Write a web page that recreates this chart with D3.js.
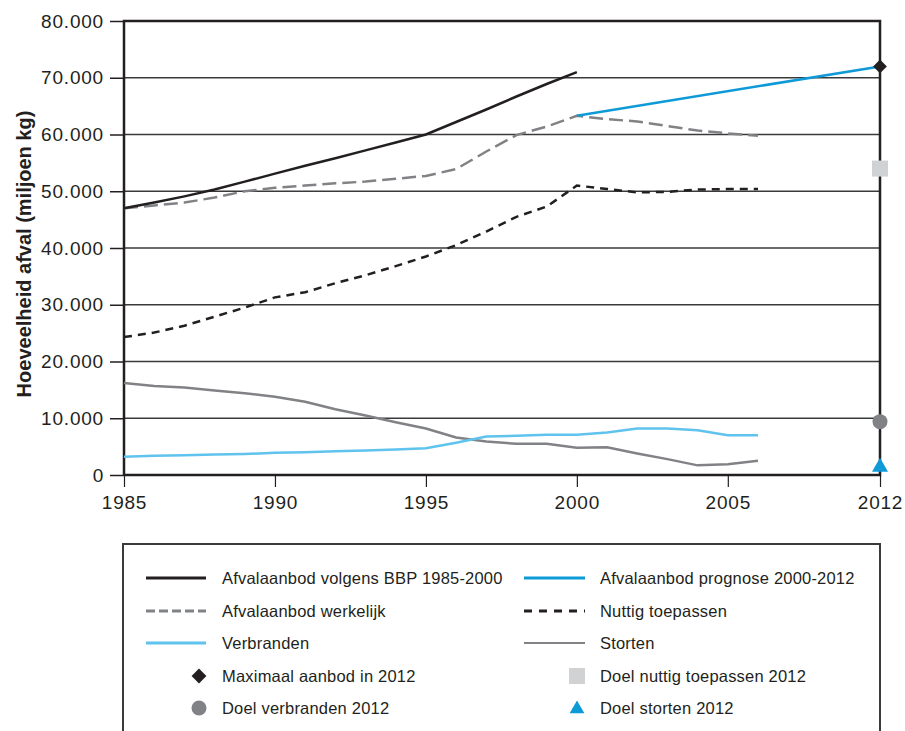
<!DOCTYPE html>
<html>
<head>
<meta charset="utf-8">
<script src="https://cdn.jsdelivr.net/npm/d3@7"></script>
<style>
  body { margin: 0; background: #fff; }
  svg text { font-family: "Liberation Sans", Arial, sans-serif; fill: #231f20; }
</style>
</head>
<body>
<div id="chart-area"></div>
<script>
// Data (miljoen kg)
let years = [1985, 1986, 1987, 1988, 1989, 1990, 1991, 1992, 1993, 1994, 1995,
  1996, 1997, 1998, 1999, 2000, 2001, 2002, 2003, 2004, 2005, 2006];

let bbp = [47000, 48000, 49100, 50300, 51700, 53100, 54500, 55800, 57200, 58600, 60000,
  62200, 64400, 66700, 68900, 71000];

let werkelijk = [47000, 47500, 48000, 48900, 50000, 50600, 51000, 51400, 51700, 52200, 52700,
  53900, 57000, 59900, 61400, 63300, 62700, 62300, 61500, 60700, 60200, 59800];

let nuttig = [24300, 25100, 26300, 27900, 29500, 31300, 32200, 33800, 35200, 36800, 38500,
  40500, 42900, 45500, 47300, 51000, 50400, 49800, 49900, 50300, 50400, 50400];

let verbranden = [3200, 3400, 3500, 3600, 3700, 3900, 4000, 4200, 4300, 4500, 4700,
  5700, 6800, 6900, 7100, 7100, 7500, 8200, 8200, 7900, 7000, 7000];

let storten = [16200, 15700, 15400, 14900, 14400, 13800, 12900, 11600, 10500, 9300, 8200,
  6600, 5900, 5500, 5500, 4800, 4900, 3800, 2800, 1700, 1900, 2500];

let prognoseYears = [2000, 2012];
let prognose = [63300, 72000];

// Targets 2012
let targetYear = 2012;
let maxAanbod = 72000;
let doelNuttig = 54000;
let doelVerbranden = 9400;
let doelStorten = 1400;

let xTicks = [1985, 1990, 1995, 2000, 2005, 2012];
let yTicks = [0, 10000, 20000, 30000, 40000, 50000, 60000, 70000, 80000];

let legendCol1 = ['Afvalaanbod volgens BBP 1985-2000', 'Afvalaanbod werkelijk', 'Verbranden',
  'Maximaal aanbod in 2012', 'Doel verbranden 2012'];
let legendCol2 = ['Afvalaanbod prognose 2000-2012', 'Nuttig toepassen', 'Storten',
  'Doel nuttig toepassen 2012', 'Doel storten 2012'];

// SVG drawing area
let margin = { top: 21, right: 25, bottom: 256, left: 124 };
let width = 905 - margin.left - margin.right,
  height = 731 - margin.top - margin.bottom;

let svgRoot = d3.select('#chart-area').append('svg')
  .attr('width', 905)
  .attr('height', 731);

let svg = svgRoot.append('g')
  .attr('transform', 'translate(' + margin.left + ',' + margin.top + ')');

// Scales: 2012 is squeezed in at the right edge
let x = d3.scaleLinear()
  .domain([1985, 2006, 2012])
  .range([0, 634, width]);

let y = d3.scaleLinear().domain([0, 80000]).range([height, 0]);

let nl = d3.formatLocale({ decimal: ',', thousands: '.', grouping: [3], currency: ['', ''] });
let fmt = nl.format(',');

// Gridlines
svg.append('g')
  .selectAll('line')
  .data(yTicks.filter(d => d > 0 && d < 80000))
  .enter().append('line')
  .attr('x1', 0).attr('x2', width)
  .attr('y1', d => y(d)).attr('y2', d => y(d))
  .attr('stroke', '#3a3a3a')
  .attr('stroke-width', 1.5);

// Axes
let yAxis = d3.axisLeft(y).tickValues(yTicks).tickFormat(fmt).tickSize(14).tickPadding(6);
let ySvg = svg.append('g').call(yAxis);
ySvg.select('.domain').remove();
ySvg.selectAll('line').attr('stroke', '#231f20').attr('stroke-width', 1.5);
ySvg.selectAll('text').style('font-size', '19px').style('letter-spacing', '0.8px');

let xAxis = d3.axisBottom(x).tickValues(xTicks).tickFormat(d3.format('d')).tickSize(12).tickPadding(9);
let xSvg = svg.append('g').attr('transform', 'translate(0,' + height + ')').call(xAxis);
xSvg.select('.domain').remove();
xSvg.selectAll('line').attr('stroke', '#231f20').attr('stroke-width', 1.2);
xSvg.selectAll('text').style('font-size', '19px').style('letter-spacing', '0.8px');

// Frame
svg.append('path')
  .attr('d', 'M0,' + height + 'V0H' + width + 'V' + height + 'H0')
  .attr('fill', 'none')
  .attr('stroke', '#231f20')
  .attr('stroke-width', 2.5);

// Lines
let line = d3.line().x(d => x(d[0])).y(d => y(d[1]));
let series = [
  { values: werkelijk, years: years, color: '#808285', dash: '14,6', w: 2.5 },
  { values: nuttig, years: years, color: '#231f20', dash: '8,6', w: 2.5 },
  { values: storten, years: years, color: '#808285', dash: null, w: 2.5 },
  { values: verbranden, years: years, color: '#5fc3ee', dash: null, w: 2.5 },
  { values: bbp, years: years, color: '#231f20', dash: null, w: 2.5 },
  { values: prognose, years: prognoseYears, color: '#0e9ad7', dash: null, w: 2.5 }
];

svg.selectAll('.serie')
  .data(series)
  .enter().append('path')
  .attr('class', 'serie')
  .attr('d', s => line(s.values.map((v, i) => [s.years[i], v])))
  .attr('fill', 'none')
  .attr('stroke', s => s.color)
  .attr('stroke-width', s => s.w)
  .attr('stroke-dasharray', s => s.dash);

// Target markers
let tx = x(targetYear);
svg.append('rect')
  .attr('x', tx - 8).attr('y', y(doelNuttig) - 8)
  .attr('width', 16).attr('height', 16)
  .attr('fill', '#d1d2d4');
svg.append('circle')
  .attr('cx', tx).attr('cy', y(doelVerbranden)).attr('r', 7.5)
  .attr('fill', '#808285');
svg.append('path')
  .attr('transform', 'translate(' + tx + ',' + y(doelStorten) + ')')
  .attr('d', d3.symbol().type(d3.symbolTriangle).size(111))
  .attr('fill', '#0e9ad7');
svg.append('path')
  .attr('transform', 'translate(' + tx + ',' + y(maxAanbod) + ')')
  .attr('d', d3.symbol().type(d3.symbolDiamond2).size(120))
  .attr('fill', '#231f20');

// Y axis title
svgRoot.append('text')
  .attr('transform', 'translate(31,' + (margin.top + height / 2 + 6) + ') rotate(-90)')
  .attr('text-anchor', 'middle')
  .style('font-size', '20px')
  .style('font-weight', 'bold')
  .text('Hoeveelheid afval (miljoen kg)');

// Legend
let legend = svgRoot.append('g');
legend.append('path')
  .attr('d', 'M123,735V544H880V735')
  .attr('fill', 'none')
  .attr('stroke', '#3a3a3a')
  .attr('stroke-width', 2);

let rowY = [578, 611, 643, 676, 708];
let legendStyle1 = [
  { type: 'line', color: '#231f20', dash: null },
  { type: 'line', color: '#808285', dash: '9,4' },
  { type: 'line', color: '#5fc3ee', dash: null },
  { type: 'diamond', color: '#231f20' },
  { type: 'circle', color: '#808285' }
];
let legendStyle2 = [
  { type: 'line', color: '#0e9ad7', dash: null },
  { type: 'line', color: '#231f20', dash: '8,7' },
  { type: 'line', color: '#808285', dash: null, w: 2 },
  { type: 'square', color: '#d1d2d4' },
  { type: 'triangle', color: '#0e9ad7' }
];

function drawLegend(labels, styles, lx0, lx1, mx, tx0) {
  labels.forEach((lab, i) => {
    let s = styles[i];
    let cy = rowY[i];
    if (s.type === 'line') {
      legend.append('line')
        .attr('x1', lx0).attr('x2', lx1).attr('y1', cy).attr('y2', cy)
        .attr('stroke', s.color).attr('stroke-width', s.w || 3)
        .attr('stroke-dasharray', s.dash);
    } else if (s.type === 'diamond') {
      legend.append('path').attr('transform', 'translate(' + mx + ',' + cy + ')')
        .attr('d', d3.symbol().type(d3.symbolDiamond2).size(140)).attr('fill', s.color);
    } else if (s.type === 'circle') {
      legend.append('circle').attr('cx', mx).attr('cy', cy).attr('r', 7.5).attr('fill', s.color);
    } else if (s.type === 'square') {
      legend.append('rect').attr('x', mx - 8).attr('y', cy - 8).attr('width', 16).attr('height', 16).attr('fill', s.color);
    } else if (s.type === 'triangle') {
      legend.append('path').attr('transform', 'translate(' + mx + ',' + (cy + 1) + ')')
        .attr('d', d3.symbol().type(d3.symbolTriangle).size(95)).attr('fill', s.color);
    }
    legend.append('text')
      .attr('x', tx0).attr('y', cy)
      .attr('dy', '0.35em')
      .style('font-size', '16.5px')
      .style('letter-spacing', '0.2px')
      .text(lab);
  });
}

drawLegend(legendCol1, legendStyle1, 146, 206, 199, 222);
drawLegend(legendCol2, legendStyle2, 524, 585, 577, 600);
</script>
</body>
</html>
